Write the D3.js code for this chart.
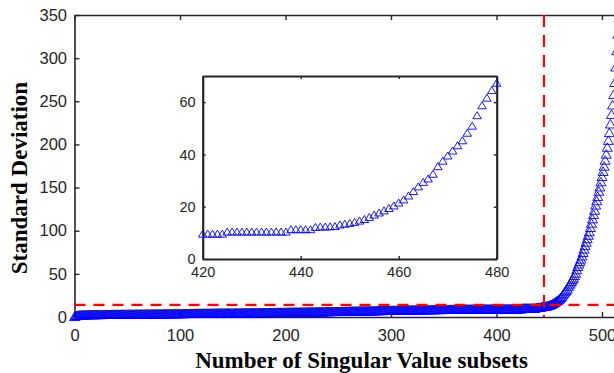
<!DOCTYPE html>
<html>
<head>
<meta charset="utf-8">
<script src="https://cdn.jsdelivr.net/npm/d3@7"></script>
<style>
  html, body { margin: 0; padding: 0; background: #fff; overflow: hidden; }
</style>
</head>
<body>
<svg id="chart" width="614" height="373"></svg>
<script>
// standard deviation per subset index (index = position in array)
// flat part, index 0..299
const sdLow = [
  0.8,1.5,1.9,2.2,2.4,2.5,2.6,2.7,2.7,2.8,
  2.8,2.8,2.9,2.9,2.9,2.9,3.0,3.0,3.0,3.0,
  3.0,3.0,3.1,3.1,3.1,3.1,3.1,3.1,3.2,3.2,
  3.2,3.2,3.2,3.2,3.2,3.3,3.3,3.3,3.3,3.3,
  3.3,3.3,3.3,3.4,3.4,3.4,3.4,3.4,3.4,3.4,
  3.4,3.5,3.5,3.5,3.5,3.5,3.5,3.5,3.5,3.6,
  3.6,3.6,3.6,3.6,3.6,3.6,3.6,3.7,3.7,3.7,
  3.7,3.7,3.7,3.7,3.8,3.8,3.8,3.8,3.8,3.8,
  3.9,3.9,3.9,3.9,3.9,3.9,4.0,4.0,4.0,4.0,
  4.0,4.0,4.1,4.1,4.1,4.1,4.1,4.1,4.2,4.2,
  4.2,4.2,4.2,4.2,4.3,4.3,4.3,4.3,4.3,4.3,
  4.4,4.4,4.4,4.4,4.4,4.4,4.5,4.5,4.5,4.5,
  4.5,4.5,4.5,4.6,4.6,4.6,4.6,4.6,4.6,4.6,
  4.7,4.7,4.7,4.7,4.7,4.7,4.7,4.8,4.8,4.8,
  4.8,4.8,4.8,4.8,4.8,4.9,4.9,4.9,4.9,4.9,
  4.9,4.9,4.9,5.0,5.0,5.0,5.0,5.0,5.0,5.0,
  5.1,5.1,5.1,5.1,5.1,5.1,5.2,5.2,5.2,5.2,
  5.2,5.2,5.2,5.3,5.3,5.3,5.3,5.3,5.3,5.4,
  5.4,5.4,5.4,5.4,5.4,5.5,5.5,5.5,5.5,5.5,
  5.5,5.6,5.6,5.6,5.6,5.6,5.6,5.7,5.7,5.7,
  5.7,5.7,5.7,5.8,5.8,5.8,5.8,5.8,5.8,5.9,
  5.9,5.9,5.9,5.9,6.0,6.0,6.0,6.0,6.0,6.0,
  6.1,6.1,6.1,6.1,6.1,6.2,6.2,6.2,6.2,6.2,
  6.3,6.3,6.3,6.3,6.3,6.4,6.4,6.4,6.4,6.5,
  6.5,6.5,6.5,6.5,6.6,6.6,6.6,6.6,6.7,6.7,
  6.7,6.7,6.7,6.8,6.8,6.8,6.8,6.9,6.9,6.9,
  6.9,7.0,7.0,7.0,7.0,7.1,7.1,7.1,7.1,7.2,
  7.2,7.2,7.2,7.3,7.3,7.3,7.3,7.4,7.4,7.4,
  7.4,7.5,7.5,7.5,7.5,7.6,7.6,7.6,7.6,7.7,
  7.7,7.7,7.7,7.8,7.8,7.8,7.8,7.9,7.9,7.9
];
// index 300..419
const sdMid = [
  7.9,7.9,8.0,8.0,8.0,8.0,8.1,8.1,8.1,8.1,
  8.2,8.2,8.2,8.2,8.3,8.3,8.3,8.3,8.4,8.4,
  8.4,8.4,8.4,8.5,8.5,8.5,8.5,8.5,8.6,8.6,
  8.6,8.6,8.6,8.7,8.7,8.7,8.7,8.7,8.8,8.8,
  8.8,8.8,8.8,8.8,8.9,8.9,8.9,8.9,8.9,8.9,
  9.0,9.0,9.0,9.0,9.0,9.0,9.1,9.1,9.1,9.1,
  9.1,9.1,9.1,9.2,9.2,9.2,9.2,9.2,9.2,9.2,
  9.3,9.3,9.3,9.3,9.3,9.3,9.3,9.3,9.4,9.4,
  9.4,9.4,9.4,9.4,9.4,9.4,9.4,9.4,9.5,9.5,
  9.5,9.5,9.5,9.5,9.5,9.5,9.5,9.5,9.5,9.5,
  9.5,9.5,9.5,9.5,9.5,9.5,9.6,9.6,9.6,9.6,
  9.6,9.6,9.6,9.6,9.6,9.6,9.6,9.6,9.6,9.6
];
// index 420..480 (the zoomed window)
const sdKnee = [
  9.7,9.7,9.7,9.7,9.7,10.5,10.5,10.5,10.5,10.5,
  10.5,10.5,10.5,10.5,10.5,10.5,10.5,10.5,11.4,11.4,
  11.4,11.4,11.4,12.3,12.4,12.4,12.5,12.6,13.2,13.5,
  13.8,14.2,14.7,15.3,16.1,17.0,17.8,18.6,19.5,20.5,
  21.6,22.8,24.3,26.0,27.8,29.5,30.8,32.6,35.5,37.6,
  39.6,41.5,43.5,45.4,48.3,51.0,55.0,58.8,61.7,64.6,67.4
];
// index 481..520
const sdRise = [
  71,75,79,83,87,91,95,99,104,109,114,119,124,130,135,140,146,151,157,163,169,175,182,189,
  197,205,214,224,235,246,258,272,290,309,328,347,366,385,404,423
];

const xTicks = [0, 100, 200, 300, 400, 500];
const yTicks = [0, 50, 100, 150, 200, 250, 300, 350];
const insetXTicks = [420, 440, 460, 480];
const insetYTicks = [0, 20, 40, 60];

const thresholdSD = 14;   // red horizontal line
const cutoffIndex = 445;  // red vertical line

const sd = sdLow.concat(sdMid, sdKnee, sdRise);
const points = sd.map(function(v, i) { return { i: i, v: v }; });

const axisColor = '#262626';
const tickFont = '"Liberation Sans", Arial, Helvetica, sans-serif';
const titleFont = '"Liberation Serif", "Times New Roman", Times, serif';

const svg = d3.select('#chart');

// main axes
const x = d3.scaleLinear().domain([0, 600]).range([74.5, 707.5]);
const y = d3.scaleLinear().domain([0, 350]).range([317, 15]);

function triangle(w, h) {
  return 'M0,' + (-h / 2) + 'L' + (w / 2) + ',' + (h / 2) + 'L' + (-w / 2) + ',' + (h / 2) + 'Z';
}

function styleAxis(g, size) {
  g.attr('font-size', size).attr('font-family', tickFont);
  g.selectAll('.domain').attr('stroke', axisColor).attr('stroke-width', 1.6);
  g.selectAll('.tick line').attr('stroke', axisColor).attr('stroke-width', 1.4);
  g.selectAll('.tick text').attr('fill', axisColor);
}

const main = svg.append('g');

main.append('g')
  .attr('transform', 'translate(0,' + y(0) + ')')
  .call(d3.axisBottom(x).tickValues(xTicks).tickSizeInner(-5).tickSizeOuter(0).tickPadding(12))
  .call(styleAxis, 16.5);

main.append('g')
  .attr('transform', 'translate(0,' + y(350) + ')')
  .call(d3.axisTop(x).tickValues(xTicks).tickSizeInner(-5).tickSizeOuter(0).tickFormat(''))
  .call(styleAxis, 16.5);

main.append('g')
  .attr('transform', 'translate(' + x(0) + ',0)')
  .call(d3.axisLeft(y).tickValues(yTicks).tickSizeInner(-5).tickSizeOuter(0).tickPadding(7.5))
  .call(styleAxis, 16.5);

// markers
main.append('g')
  .selectAll('path')
  .data(points)
  .enter().append('path')
  .attr('d', triangle(10, 8.5))
  .attr('transform', function(d) { return 'translate(' + x(d.i) + ',' + y(d.v) + ')'; })
  .attr('fill', 'none')
  .attr('stroke', '#0000ff')
  .attr('stroke-width', 0.9);

// red dashed reference lines
main.append('line')
  .attr('x1', x(0)).attr('x2', x(600))
  .attr('y1', y(thresholdSD)).attr('y2', y(thresholdSD))
  .attr('stroke', '#ff0000').attr('stroke-width', 2.2)
  .attr('stroke-dasharray', '11,8');

main.append('line')
  .attr('x1', x(cutoffIndex)).attr('x2', x(cutoffIndex))
  .attr('y1', y(350)).attr('y2', y(0))
  .attr('stroke', '#ff0000').attr('stroke-width', 2.2)
  .attr('stroke-dasharray', '12,8');

// axis titles
svg.append('text')
  .attr('transform', 'translate(27,178) rotate(-90)')
  .attr('text-anchor', 'middle')
  .attr('font-family', titleFont)
  .attr('font-weight', 'bold')
  .attr('font-size', 23)
  .attr('fill', '#000')
  .text('Standard Deviation');

svg.append('text')
  .attr('x', 361.5)
  .attr('y', 368)
  .attr('text-anchor', 'middle')
  .attr('font-family', titleFont)
  .attr('font-weight', 'bold')
  .attr('font-size', 23)
  .attr('fill', '#000')
  .text('Number of Singular Value subsets');

// inset: zoom on 420..480
const ix = d3.scaleLinear().domain([420, 480]).range([202.7, 496.7]);
const iy = d3.scaleLinear().domain([0, 70]).range([259, 76]);

const inset = svg.append('g');

inset.append('rect')
  .attr('x', ix(420)).attr('y', iy(70))
  .attr('width', ix(480) - ix(420)).attr('height', iy(0) - iy(70))
  .attr('fill', '#fff');

inset.append('g')
  .attr('transform', 'translate(0,' + iy(0) + ')')
  .call(d3.axisBottom(ix).tickValues(insetXTicks).tickSizeInner(-3).tickSizeOuter(0).tickPadding(8))
  .call(styleAxis, 14.5);

inset.append('g')
  .attr('transform', 'translate(0,' + iy(70) + ')')
  .call(d3.axisTop(ix).tickValues(insetXTicks).tickSizeInner(-3).tickSizeOuter(0).tickFormat(''))
  .call(styleAxis, 14.5);

inset.append('g')
  .attr('transform', 'translate(' + ix(420) + ',0)')
  .call(d3.axisLeft(iy).tickValues(insetYTicks).tickSizeInner(-3).tickSizeOuter(0).tickPadding(7))
  .call(styleAxis, 14.5);

inset.append('g')
  .attr('transform', 'translate(' + ix(480) + ',0)')
  .call(d3.axisRight(iy).tickValues(insetYTicks).tickSizeInner(-3).tickSizeOuter(0).tickFormat(''))
  .call(styleAxis, 14.5);

inset.selectAll('.domain').attr('stroke-width', 2.2);

inset.append('g')
  .selectAll('path')
  .data(points.filter(function(d) { return d.i >= 420 && d.i <= 480; }))
  .enter().append('path')
  .attr('d', triangle(8.5, 7))
  .attr('transform', function(d) { return 'translate(' + ix(d.i) + ',' + iy(d.v) + ')'; })
  .attr('fill', 'none')
  .attr('stroke', '#0000ff')
  .attr('stroke-width', 0.9);
</script>
</body>
</html>
